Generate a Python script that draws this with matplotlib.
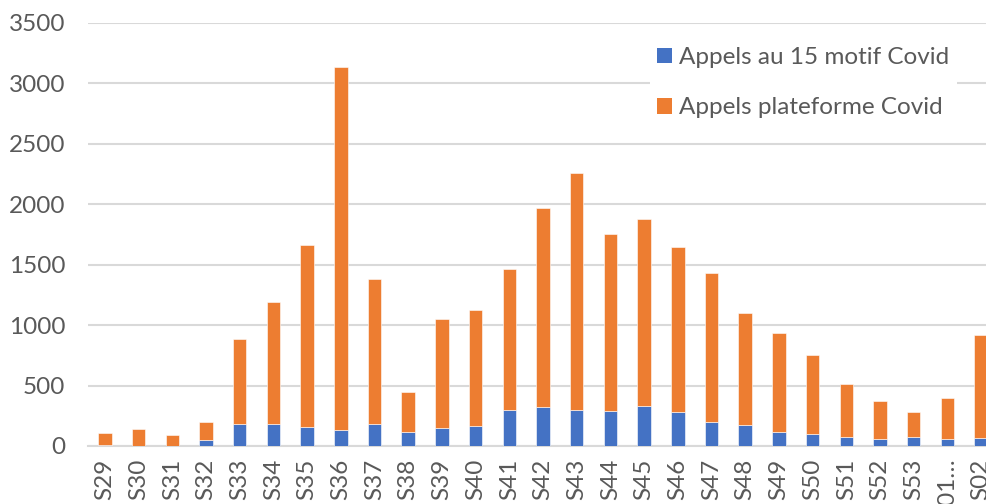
import matplotlib
matplotlib.use("Agg")
import matplotlib.pyplot as plt
from matplotlib.patches import Patch
import numpy as np

plt.rcParams['font.family'] = ['Lato', 'DejaVu Sans']

weeks = ["S29", "S30", "S31", "S32", "S33", "S34", "S35", "S36", "S37", "S38",
         "S39", "S40", "S41", "S42", "S43", "S44", "S45", "S46", "S47", "S48",
         "S49", "S50", "S51", "S52", "S53", "S01…", "S02"]
totals = [105, 141, 91, 196, 885, 1192, 1664, 3137, 1382, 445,
          1051, 1126, 1465, 1973, 2257, 1758, 1877, 1645, 1430, 1104,
          935, 751, 511, 375, 284, 395, 916]
appels_15 = [5, 2, 3, 52, 185, 185, 160, 135, 180, 113,
             152, 168, 295, 320, 301, 292, 329, 281, 196, 171,
             118, 102, 72, 60, 72, 60, 69]
plateforme = [t - a for t, a in zip(totals, appels_15)]

label_15 = "Appels au 15 motif Covid"
label_plat = "Appels plateforme Covid"

blue = "#4472C4"
orange = "#ED7D31"
grid_c = "#D9D9D9"
text_c = "#595959"

W, H = 987, 504
fig = plt.figure(figsize=(W / 100, H / 100), dpi=100)
left, right, top, bottom = 88, 998, 23, 446
ax = fig.add_axes([left / W, (H - bottom) / H, (right - left) / W, (bottom - top) / H])

x = np.arange(len(weeks))
ax.bar(x, appels_15, width=0.4, color=blue, edgecolor="white", linewidth=0.4, zorder=3)
ax.bar(x, plateforme, width=0.4, bottom=appels_15, color=orange, edgecolor="white", linewidth=0.4, zorder=3)

ax.set_xlim(-0.5, len(weeks) - 0.5)
ax.set_ylim(0, 3500)
ax.set_yticks(np.arange(0, 3501, 500))
ax.yaxis.grid(True, color=grid_c, linewidth=1.5, zorder=0)
ax.set_axisbelow(True)
for s in ["top", "right", "left"]:
    ax.spines[s].set_visible(False)
ax.spines["bottom"].set_color(grid_c)
ax.spines["bottom"].set_linewidth(1.5)
ax.tick_params(axis="both", length=0, labelsize=17.5, labelcolor=text_c)
ax.tick_params(axis="y", pad=16.5)
ax.tick_params(axis="x", pad=9)
ax.set_xticks(x)
ax.set_xticklabels(weeks, rotation=90)

handles = [Patch(facecolor=blue, edgecolor="none"), Patch(facecolor=orange, edgecolor="none")]
leg = ax.legend(handles, [label_15, label_plat], loc="upper left",
                bbox_to_anchor=(650 / W, 1 - 40 / H), bbox_transform=fig.transFigure,
                frameon=True, facecolor="white", edgecolor="none", framealpha=1,
                fancybox=False, fontsize=17.5, handlelength=0.6, handleheight=0.6,
                handletextpad=0.3, labelspacing=1.2, borderaxespad=0, borderpad=0.3)
leg.set_zorder(5)
for t in leg.get_texts():
    t.set_color(text_c)

fig.savefig("out.png", dpi=100)
